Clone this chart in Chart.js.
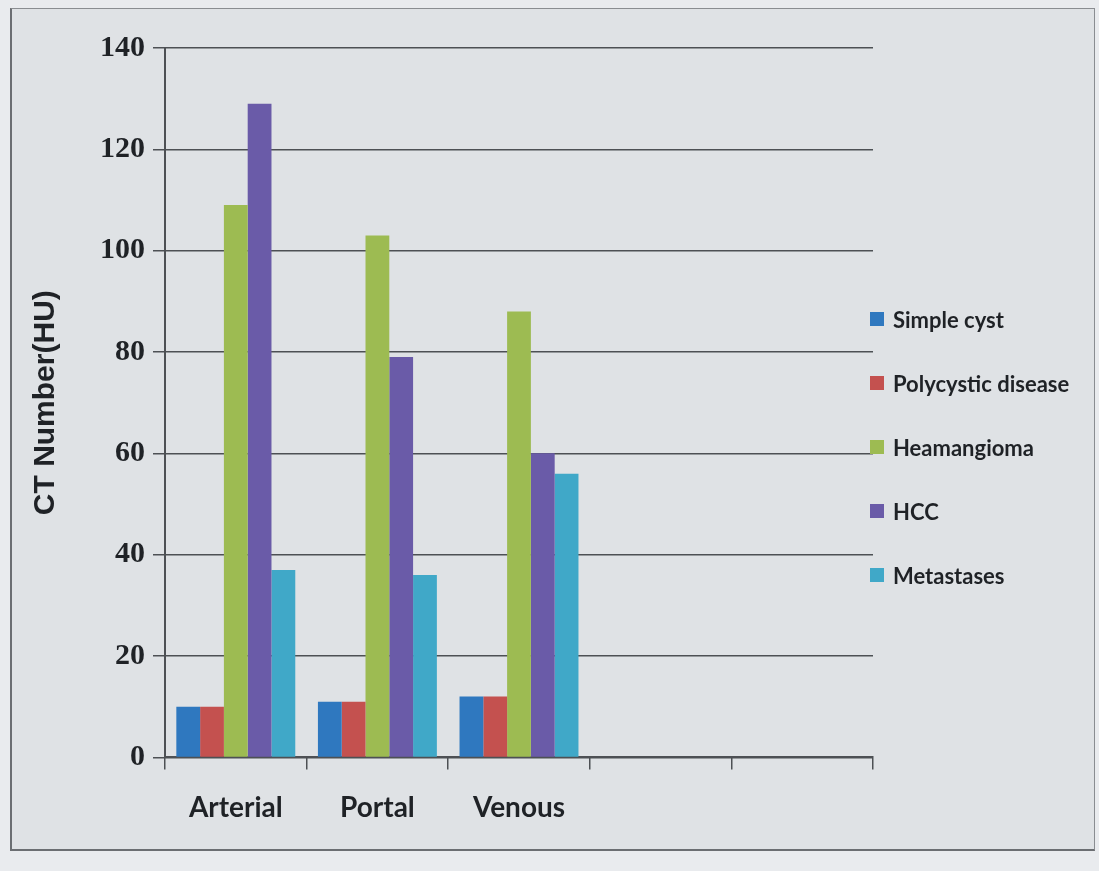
<!DOCTYPE html>
<html>
<head>
<meta charset="utf-8">
<title>CT Number by phase</title>
<script src="https://cdn.jsdelivr.net/npm/chart.js@4.4.1/dist/chart.umd.min.js"></script>
<style>
  html, body { margin: 0; padding: 0; background: #e9ebee; }
  #frame {
    position: absolute; left: 10px; top: 8px; width: 1082px; height: 840px;
    background: #dfe2e5; border-left: 2px solid #6b6e72; border-bottom: 2px solid #6b6e72;
    border-top: 1px solid #8a8d91; border-right: 1px solid #8a8d91;
  }
  #wrap { position: absolute; left: 0; top: 0; width: 1099px; height: 871px; }
  #legend {
    position: absolute; left: 870px; top: 287px;
    font-family: Lato, sans-serif; font-weight: bold; font-size: 22px; color: #1f2226;
  }
  #legend .item { display: flex; align-items: center; height: 64px; }
  #legend .box { width: 14px; height: 14px; margin-right: 9px; }
</style>
</head>
<body>
<div id="frame"></div>
<div id="wrap"><canvas id="ctChart" width="1099" height="871"></canvas></div>
<div id="legend"></div>
<script>
// 단계별 CT 값 (HU)
var phases = ['Arterial', 'Portal', 'Venous', '', ''];
var simpleCyst = [10, 11, 12, null, null];
var polycystic = [10, 11, 12, null, null];
var heamangioma = [109, 103, 88, null, null];
var hcc = [129, 79, 60, null, null];
var metastases = [37, 36, 56, null, null];
var yTicks = [0, 20, 40, 60, 80, 100, 120, 140];

var ctx = document.getElementById('ctChart').getContext('2d');
var myChart = new Chart(ctx, {
    type: 'bar',
    data: {
        labels: phases,
        datasets: [
            { label: 'Simple cyst', data: simpleCyst, backgroundColor: '#2f78bf' },
            { label: 'Polycystic disease', data: polycystic, backgroundColor: '#c4514f' },
            { label: 'Heamangioma', data: heamangioma, backgroundColor: '#9dbb52' },
            { label: 'HCC', data: hcc, backgroundColor: '#6a5ba8' },
            { label: 'Metastases', data: metastases, backgroundColor: '#40a8c8' }
        ]
    },
    options: {
        responsive: false,
        animation: false,
        layout: { padding: { top: 48, left: 24, right: 226, bottom: 24 } },
        datasets: { bar: { categoryPercentage: 0.84, barPercentage: 1.0 } },
        scales: {
            x: {
                grid: { drawOnChartArea: false, drawTicks: true, tickLength: 12, color: '#4d5054', lineWidth: 1.5 },
                border: { color: '#4d5054', width: 2 },
                ticks: { color: '#1f2226', padding: 22, font: { family: 'Lato', size: 28, weight: 'bold' } }
            },
            y: {
                min: 0,
                max: 140,
                afterBuildTicks: function(axis) {
                    axis.ticks = yTicks.map(function(v) { return { value: v }; });
                },
                grid: { color: '#4d5054', lineWidth: 1.5, tickLength: 12 },
                border: { color: '#4d5054', width: 2 },
                ticks: { color: '#1f2226', padding: 8, font: { family: 'Liberation Serif', size: 30, weight: 'bold' } },
                title: {
                    display: true,
                    text: 'CT Number(HU)',
                    color: '#1f2226',
                    padding: { bottom: 28 },
                    font: { family: 'Liberation Sans', size: 30, weight: 'bold' }
                }
            }
        },
        plugins: {
            legend: { display: false },
            tooltip: { enabled: false }
        }
    }
});

// 범례는 데이터셋에서 만들어 HTML로 표시
var legendBox = document.getElementById('legend');
myChart.data.datasets.forEach(function(ds) {
    var row = document.createElement('div');
    row.className = 'item';
    row.innerHTML = "<span class='box' style='background:" + ds.backgroundColor + "'></span>" + ds.label;
    legendBox.appendChild(row);
});
</script>
</body>
</html>
